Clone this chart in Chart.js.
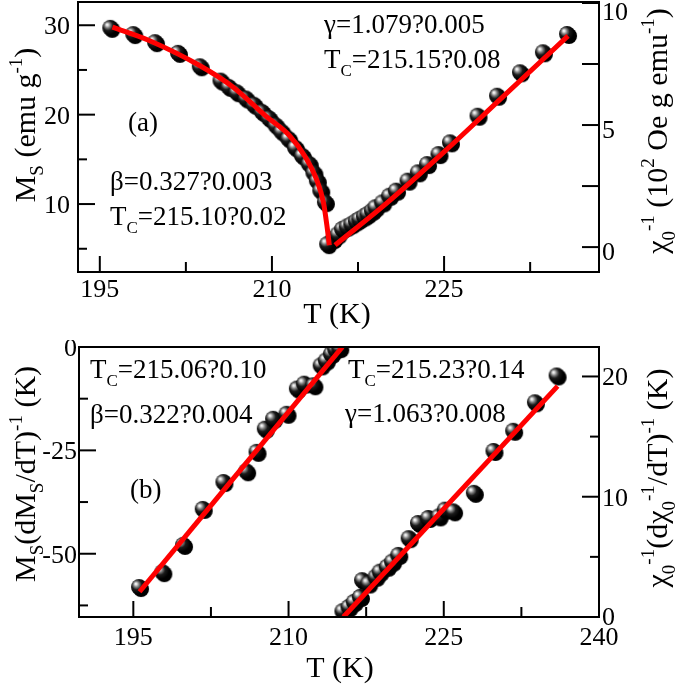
<!DOCTYPE html>
<html>
<head>
<meta charset="utf-8">
<script src="https://cdn.jsdelivr.net/npm/chart.js@4/dist/chart.umd.min.js"></script>
<style>
  body { margin: 0; background: #fff; width: 675px; height: 684px; overflow: hidden; }
  canvas { position: absolute; left: 0; }
</style>
</head>
<body>
<canvas id="topPanel" width="675" height="340" style="top:0"></canvas>
<canvas id="bottomPanel" width="675" height="344" style="top:340px"></canvas>
<script>
// --- DATA ---

// (a) Ms vs T, below Tc (left axis)
const msTemp = [196.0, 198.0, 199.9, 201.9, 203.8, 205.6, 206.3, 207.0, 207.8, 208.5, 209.2, 209.8,
  210.4, 210.9, 211.5, 212.1, 212.7, 213.3, 213.7, 214.0, 214.3, 214.7, 214.9];
const msValue = [29.6, 28.9, 28.0, 26.8, 25.3, 23.7, 23.0, 22.4, 21.7, 21.0, 20.2, 19.5,
  18.7, 18.0, 17.2, 16.2, 15.3, 14.4, 13.4, 12.5, 11.4, 10.1, 5.4];
const msFitTemp = [196.1, 199.3, 203.7, 206.6, 209.5, 211.5, 212.9, 213.9, 214.5, 214.8, 215.0];
const msFitValue = [29.8, 28.3, 25.5, 23.1, 19.8, 17.7, 15.3, 12.7, 10.1, 7.5, 5.4];

// (a) inverse susceptibility vs T, above Tc (right axis, 10^2 Oe g/emu)
const chiTemp = [215.4, 215.8, 216.2, 216.6, 217.0, 217.4, 217.7, 218.1, 218.4, 218.8, 219.1, 219.7,
  220.3, 220.9, 221.9, 222.8, 223.6, 224.6, 225.6, 228.0, 229.7, 231.7, 233.7, 235.8];
const chiValue = [0.29, 0.48, 0.70, 0.80, 0.90, 1.02, 1.11, 1.22, 1.31, 1.45, 1.59, 1.79,
  2.06, 2.27, 2.68, 3.02, 3.36, 3.77, 4.25, 5.34, 6.16, 7.12, 7.94, 8.69];
const chiFitTemp = [215.5, 220.0, 225.0, 230.0, 235.8];
const chiFitValue = [0.08, 1.8, 3.9, 6.1, 8.65];

// (b) Kouvel-Fisher: Ms(dMs/dT)^-1 (left axis)
const kfMsTemp = [195.65, 197.9, 199.9, 201.8, 203.8, 206.0, 207.0, 207.8, 208.6, 209.9, 210.9, 211.6,
  212.5, 213.2, 213.7, 214.2, 214.6, 215.0];
const kfMsValue = [-58.3, -54.7, -48.1, -39.4, -32.9, -30.3, -25.6, -20.0, -17.6, -16.4, -10.3, -9.1,
  -9.5, -4.7, -3.5, -1.9, -0.8, -0.5];
const kfMsFitTemp = [195.6, 215.2];
const kfMsFitValue = [-59.2, 0];

// (b) Kouvel-Fisher: chi^-1(dchi^-1/dT)^-1 (right axis)
const kfChiTemp = [215.3, 215.9, 216.4, 217.0, 217.2, 217.8, 218.5, 218.9, 219.6, 220.1, 220.7, 221.7,
  222.6, 223.6, 224.6, 225.2, 226.0, 228.0, 229.9, 231.8, 233.9, 236.0];
const kfChiValue = [0.4, 0.75, 1.17, 1.59, 2.98, 2.7, 3.26, 3.68, 4.1, 4.52, 5.08, 6.47,
  7.73, 8.15, 8.28, 8.84, 8.7, 10.24, 13.72, 15.4, 17.77, 20.0];
const kfChiFitTemp = [215.3, 236.0];
const kfChiFitValue = [0, 19.2];

// tick values
const topXMajor = [195, 210, 225], topXMinor = [202.5, 217.5, 232.5];
const topLMajor = [10, 20, 30], topLMinor = [5, 15, 25];
const topRMajor = [0, 5, 10], topRMinor = [2.5, 7.5];
const botXMajor = [195, 210, 225, 240], botXMinor = [202.5, 217.5, 232.5];
const botLMajor = [-50, -25, 0], botLMinor = [-62.5, -37.5, -12.5];
const botRMajor = [0, 10, 20], botRMinor = [5, 15];

// --- HELPERS ---

const SERIF = '"Liberation Serif", "Times New Roman", serif';

// shaded sphere marker (black ball, light spot upper-left, shadow lower-right)
function makeBall(r) {
  const c = document.createElement('canvas');
  const s = Math.ceil(r * 2 + 6);
  c.width = s; c.height = s;
  const g = c.getContext('2d');
  const cx = s / 2 - 1, cy = s / 2 - 1;
  g.fillStyle = '#000';
  g.beginPath(); g.arc(cx + 2, cy + 2, r, 0, Math.PI * 2); g.fill();
  const grad = g.createRadialGradient(cx - r * 0.42, cy - r * 0.42, 0, cx - r * 0.2, cy - r * 0.2, r * 1.05);
  grad.addColorStop(0, '#ffffff');
  grad.addColorStop(0.12, '#e6e6e6');
  grad.addColorStop(0.35, '#7a7a7a');
  grad.addColorStop(0.6, '#1a1a1a');
  grad.addColorStop(1, '#000000');
  g.fillStyle = grad;
  g.beginPath(); g.arc(cx, cy, r, 0, Math.PI * 2); g.fill();
  return c;
}
const ball = makeBall(8);

function pts(xs, ys) { return xs.map((x, i) => ({ x: x, y: ys[i] })); }

// rich text: parts = [[text, 'n'|'b'|'p'], ...]  b = subscript, p = superscript
function richWidth(ctx, parts, size) {
  let w = 0;
  parts.forEach(([t, k]) => {
    ctx.font = (k === 'n' ? size : Math.round(size * 0.64)) + 'px ' + SERIF;
    w += ctx.measureText(t).width;
  });
  return w;
}
function drawRich(ctx, parts, x, y, size, opts) {
  opts = opts || {};
  ctx.save();
  ctx.translate(x, y);
  if (opts.rotate) ctx.rotate(opts.rotate);
  let cx = 0;
  if (opts.center) cx = -richWidth(ctx, parts, size) / 2;
  ctx.fillStyle = '#000';
  ctx.textBaseline = 'alphabetic';
  ctx.textAlign = 'left';
  parts.forEach(([t, k]) => {
    const fs = k === 'n' ? size : Math.round(size * 0.64);
    ctx.font = fs + 'px ' + SERIF;
    const dy = k === 'b' ? size * 0.28 : k === 'p' ? -size * 0.45 : 0;
    ctx.fillText(t, cx, dy);
    cx += ctx.measureText(t).width;
  });
  ctx.restore();
}

// frame, inside ticks, tick labels, axis titles, annotations
const panelPlugin = {
  id: 'panel',
  afterDatasetsDraw(chart, args, o) {
    const ctx = chart.ctx, a = chart.chartArea;
    const sx = chart.scales.x, sl = chart.scales.yL, sr = chart.scales.yR;
    ctx.save();
    ctx.strokeStyle = '#000';
    ctx.lineWidth = 2;
    ctx.strokeRect(a.left, a.top, a.right - a.left, a.bottom - a.top);
    const line = (x1, y1, x2, y2) => { ctx.beginPath(); ctx.moveTo(x1, y1); ctx.lineTo(x2, y2); ctx.stroke(); };
    o.xMajor.forEach(v => { const p = sx.getPixelForValue(v); line(p, a.bottom, p, a.bottom - 16); });
    o.xMinor.forEach(v => { const p = sx.getPixelForValue(v); line(p, a.bottom, p, a.bottom - 10); });
    o.lMajor.forEach(v => { const p = sl.getPixelForValue(v); line(a.left, p, a.left + 17, p); });
    o.lMinor.forEach(v => { const p = sl.getPixelForValue(v); line(a.left, p, a.left + 9, p); });
    o.rMajor.forEach(v => { const p = sr.getPixelForValue(v); line(a.right, p, a.right - 17, p); });
    o.rMinor.forEach(v => { const p = sr.getPixelForValue(v); line(a.right, p, a.right - o.rMinorLen, p); });

    ctx.fillStyle = '#000';
    ctx.font = '26px ' + SERIF;
    ctx.textBaseline = 'alphabetic';
    ctx.textAlign = 'center';
    o.xMajor.forEach(v => ctx.fillText(String(v), sx.getPixelForValue(v), a.bottom + o.xLabelDy));
    ctx.textAlign = 'right';
    o.lMajor.forEach(v => ctx.fillText(String(v), a.left - o.lLabelGap, sl.getPixelForValue(v) + 9));
    ctx.textAlign = 'left';
    o.rMajor.forEach(v => {
      const y = Math.max(sr.getPixelForValue(v) + o.rLabelDy, a.top + 18);
      ctx.fillText(String(v), a.right + 3, Math.min(y, a.bottom + 8));
    });
    ctx.restore();

    o.texts.forEach(t => drawRich(ctx, t.parts, t.x, t.y, t.size, { rotate: t.rotate, center: t.center }));
  }
};

function makePanel(id, cfg) {
  return new Chart(document.getElementById(id), {
    type: 'scatter',
    data: {
      datasets: [
        { data: cfg.leftPts, yAxisID: 'yL', pointStyle: ball, order: 2, clip: 0 },
        { data: cfg.rightPts, yAxisID: 'yR', pointStyle: ball, order: 2, clip: 0 },
        { type: 'line', data: cfg.leftFit, yAxisID: 'yL', borderColor: '#ff0000', borderWidth: 5,
          pointRadius: 0, cubicInterpolationMode: 'monotone', fill: false, order: 1, clip: 0 },
        { type: 'line', data: cfg.rightFit, yAxisID: 'yR', borderColor: '#ff0000', borderWidth: 5,
          pointRadius: 0, cubicInterpolationMode: 'monotone', fill: false, order: 1, clip: 0 }
      ]
    },
    options: {
      responsive: false,
      animation: false,
      devicePixelRatio: 1,
      layout: { padding: { top: cfg.top, left: 0, right: 0, bottom: 0 }, autoPadding: false },
      plugins: { legend: { display: false }, tooltip: { enabled: false }, panel: cfg.panel },
      scales: {
        x: { type: 'linear', position: 'bottom', min: cfg.xMin, max: cfg.xMax,
          ticks: { display: false }, grid: { display: false, drawTicks: false }, border: { display: false },
          afterFit: s => { s.height = cfg.xHeight; } },
        yL: { type: 'linear', position: 'left', min: cfg.lMin, max: cfg.lMax,
          ticks: { display: false }, grid: { display: false, drawTicks: false }, border: { display: false },
          afterFit: s => { s.width = cfg.leftW; } },
        yR: { type: 'linear', position: 'right', min: cfg.rMin, max: cfg.rMax,
          ticks: { display: false }, grid: { display: false, drawTicks: false }, border: { display: false },
          afterFit: s => { s.width = 76; } }
      }
    },
    plugins: [panelPlugin]
  });
}

// --- PANEL (a) ---
makePanel('topPanel', {
  leftPts: pts(msTemp, msValue), rightPts: pts(chiTemp, chiValue),
  leftFit: pts(msFitTemp, msFitValue), rightFit: pts(chiFitTemp, chiFitValue),
  top: 2, xHeight: 68, leftW: 78,
  xMin: 193.1, xMax: 238.5, lMin: 2.4, lMax: 32.6, rMin: -1.02, rMax: 10.04,
  panel: {
    xMajor: topXMajor, xMinor: topXMinor, lMajor: topLMajor, lMinor: topLMinor,
    rMajor: topRMajor, rMinor: topRMinor, rMinorLen: 17,
    xLabelDy: 25, lLabelGap: 8, rLabelDy: 13,
    texts: [
      { parts: [['M', 'n'], ['S', 'b'], [' (emu g', 'n'], ['-1', 'p'], [')', 'n']], x: 35, y: 125, size: 30, rotate: -Math.PI / 2, center: true },
      { parts: [['\u03c7', 'n'], ['0', 'b'], ['-1', 'p'], [' (10', 'n'], ['2', 'p'], [' Oe g emu', 'n'], ['-1', 'p'], [')', 'n']], x: 667, y: 131, size: 30, rotate: -Math.PI / 2, center: true },
      { parts: [['T (K)', 'n']], x: 337, y: 323, size: 30, center: true },
      { parts: [['(a)', 'n']], x: 128, y: 131, size: 27 },
      { parts: [['\u03b2=0.327?0.003', 'n']], x: 110, y: 190, size: 27 },
      { parts: [['T', 'n'], ['C', 'b'], ['=215.10?0.02', 'n']], x: 110, y: 225, size: 27 },
      { parts: [['\u03b3=1.079?0.005', 'n']], x: 324, y: 33, size: 27 },
      { parts: [['T', 'n'], ['C', 'b'], ['=215.15?0.08', 'n']], x: 324, y: 68, size: 27 }
    ]
  }
});

// --- PANEL (b) ---
makePanel('bottomPanel', {
  leftPts: pts(kfMsTemp, kfMsValue), rightPts: pts(kfChiTemp, kfChiValue),
  leftFit: pts(kfMsFitTemp, kfMsFitValue), rightFit: pts(kfChiFitTemp, kfChiFitValue),
  top: 7, xHeight: 67, leftW: 79,
  xMin: 189.75, xMax: 240, lMin: -65.3, lMax: 0, rMin: 0, rMax: 22.45,
  panel: {
    xMajor: botXMajor, xMinor: botXMinor, lMajor: botLMajor, lMinor: botLMinor,
    rMajor: botRMajor, rMinor: botRMinor, rMinorLen: 9,
    xLabelDy: 28, lLabelGap: 2, rLabelDy: 9,
    texts: [
      { parts: [['M', 'n'], ['S', 'b'], ['(dM', 'n'], ['S', 'b'], ['/dT)', 'n'], ['-1', 'p'], [' (K)', 'n']], x: 35, y: 134, size: 30, rotate: -Math.PI / 2, center: true },
      { parts: [['\u03c7', 'n'], ['0', 'b'], ['-1', 'p'], ['(d\u03c7', 'n'], ['0', 'b'], ['-1', 'p'], ['/dT)', 'n'], ['-1', 'p'], [' (K)', 'n']], x: 667, y: 138, size: 30, rotate: -Math.PI / 2, center: true },
      { parts: [['T (K)', 'n']], x: 340, y: 337, size: 30, center: true },
      { parts: [['(b)', 'n']], x: 130, y: 158, size: 27 },
      { parts: [['T', 'n'], ['C', 'b'], ['=215.06?0.10', 'n']], x: 90, y: 38, size: 27 },
      { parts: [['\u03b2=0.322?0.004', 'n']], x: 90, y: 83, size: 27 },
      { parts: [['T', 'n'], ['C', 'b'], ['=215.23?0.14', 'n']], x: 348, y: 38, size: 27 },
      { parts: [['\u03b3=1.063?0.008', 'n']], x: 345, y: 82, size: 27 }
    ]
  }
});
</script>
</body>
</html>
